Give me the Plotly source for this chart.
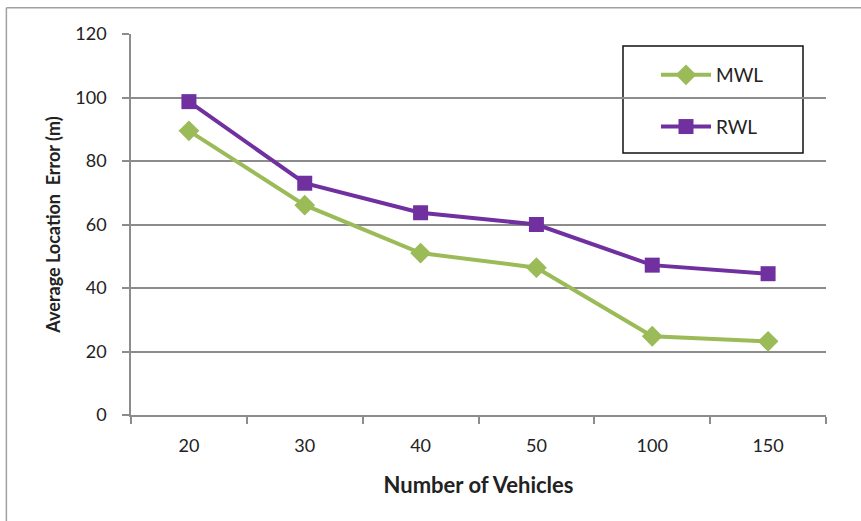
import plotly.graph_objects as go

# Number of vehicles (category axis) and average location error per method
vehicles = ["20", "30", "40", "50", "100", "150"]
mwl_error = [89.5, 66.1, 51.0, 46.4, 24.8, 23.2]
rwl_error = [98.7, 73.0, 63.7, 60.0, 47.2, 44.5]
y_ticks = [0, 20, 40, 60, 80, 100, 120]

GREEN = "#9BBB59"
PURPLE = "#7030A0"
GRID = "#8C8C8C"
FONT = "Lato, 'Open Sans', sans-serif"

fig = go.Figure()
fig.add_trace(go.Scatter(
    x=vehicles, y=mwl_error, name="MWL", mode="lines+markers",
    line=dict(color=GREEN, width=4),
    marker=dict(symbol="diamond", size=16, color=GREEN),
    legendgroup="a",
))
fig.add_trace(go.Scatter(
    x=vehicles, y=rwl_error, name="RWL", mode="lines+markers",
    line=dict(color=PURPLE, width=4),
    marker=dict(symbol="square", size=15, color=PURPLE),
    legendgroup="b",
))

fig.update_layout(
    width=861, height=521,
    margin=dict(l=131, r=35, t=34, b=106),
    paper_bgcolor="white", plot_bgcolor="white",
    font=dict(family=FONT, size=18, color="#222222"),
    showlegend=True,
    legend=dict(
        x=(656 - 131) / 695, y=(415 - 56) / 381, xanchor="left", yanchor="top",
        bgcolor="rgba(0,0,0,0)", borderwidth=0,
        font=dict(size=19, color="#222222"),
        itemwidth=50, tracegroupgap=24,
    ),
    xaxis=dict(
        type="category", range=[-0.5, 5.5],
        showgrid=False, showline=True, linecolor=GRID, linewidth=1.5,
        ticks="outside", tickson="boundaries", ticklen=7, tickcolor=GRID, tickwidth=1.5,
        tickfont=dict(size=18), ticklabelstandoff=14, zeroline=False,
        title=dict(text="<b>Number of Vehicles</b>", font=dict(size=22), standoff=22),
    ),
    yaxis=dict(
        range=[0, 120], tickvals=y_ticks,
        showgrid=True, gridcolor=GRID, gridwidth=1.5,
        showline=True, linecolor=GRID, linewidth=1.5,
        ticks="outside", ticklen=7, tickcolor=GRID, tickwidth=1.5,
        tickfont=dict(size=18), ticklabelstandoff=12, zeroline=False,
        title=dict(text="<b>Average Location  Error (m)</b>", font=dict(size=18), standoff=10),
    ),
    shapes=[
        # chart frame (top and left edges)
        dict(type="line", xref="paper", yref="paper", x0=-0.1793, x1=1.1, y0=1.0692, y1=1.0692,
             line=dict(color="#A0A0A0", width=1.5)),
        dict(type="line", xref="paper", yref="paper", x0=-0.1793, x1=-0.1793, y0=1.0692, y1=-0.5,
             line=dict(color="#A0A0A0", width=1.5)),
        # legend box
        dict(type="rect", xref="paper", yref="paper",
             x0=(623 - 131) / 695, x1=(803 - 131) / 695,
             y0=(415 - 153) / 381, y1=(415 - 46) / 381,
             line=dict(color="#111111", width=1.5), fillcolor="rgba(0,0,0,0)", layer="below"),
    ],
)

fig.write_html("out.html")
